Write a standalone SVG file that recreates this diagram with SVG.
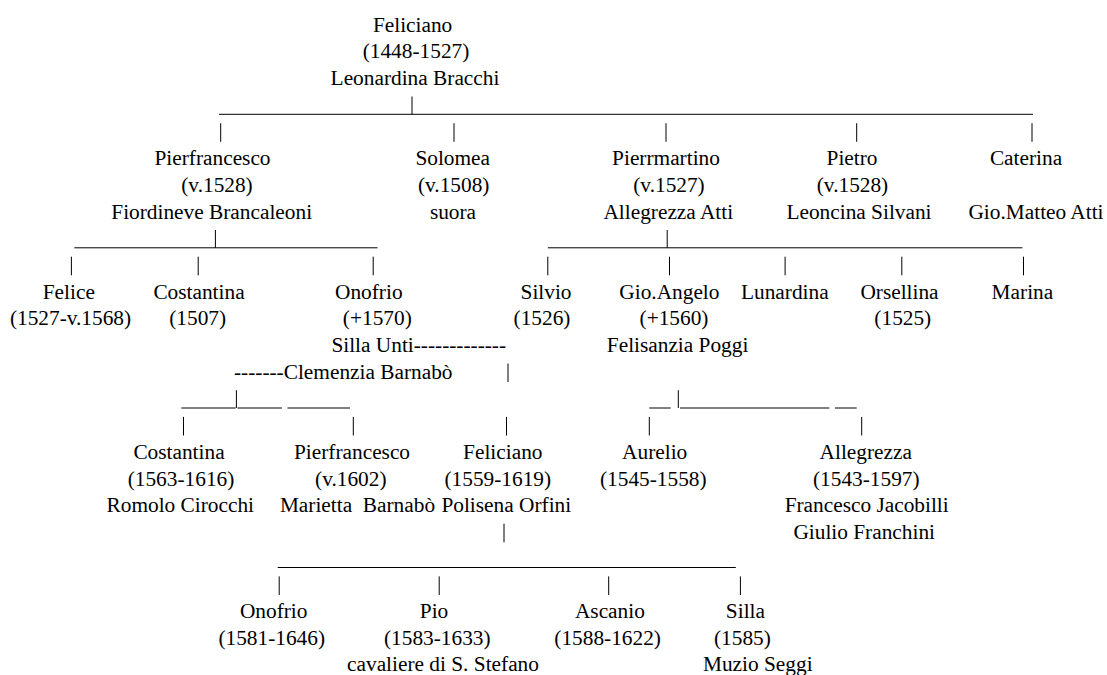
<svg xmlns="http://www.w3.org/2000/svg" width="1107" height="675" viewBox="0 0 1107 675">
<style>
.t text{font-size:21.33px;fill:#000;text-anchor:middle;white-space:pre}
.t text.s{text-anchor:start}
.c line{stroke:#000;stroke-width:1}
</style>
<rect width="1107" height="675" fill="#fff"/>
<g id="connectors" class="c">
<line x1="219" y1="114.3" x2="1033" y2="114.3"/>
<line x1="412" y1="96.5" x2="412" y2="114.3"/>
<line x1="220.7" y1="123.2" x2="220.7" y2="141.8"/>
<line x1="454" y1="123.2" x2="454" y2="141.8"/>
<line x1="666" y1="123.2" x2="666" y2="141.8"/>
<line x1="856.7" y1="123.2" x2="856.7" y2="141.8"/>
<line x1="1032" y1="123.2" x2="1032" y2="141.8"/>
<line x1="74.3" y1="247.8" x2="377.5" y2="247.8"/>
<line x1="215.4" y1="230" x2="215.4" y2="247.8"/>
<line x1="547.8" y1="247.8" x2="1022.4" y2="247.8"/>
<line x1="667.2" y1="230" x2="667.2" y2="247.8"/>
<line x1="71.4" y1="256.7" x2="71.4" y2="275.3"/>
<line x1="198.2" y1="256.7" x2="198.2" y2="275.3"/>
<line x1="373.2" y1="256.7" x2="373.2" y2="275.3"/>
<line x1="547.8" y1="256.7" x2="547.8" y2="275.3"/>
<line x1="669.5" y1="256.7" x2="669.5" y2="275.3"/>
<line x1="785.1" y1="256.7" x2="785.1" y2="275.3"/>
<line x1="901.8" y1="256.7" x2="901.8" y2="275.3"/>
<line x1="1023.5" y1="256.7" x2="1023.5" y2="275.3"/>
<line x1="508" y1="363.5" x2="508" y2="382.1"/>
<line x1="181.4" y1="408" x2="235.7" y2="408"/>
<line x1="237.5" y1="408" x2="282" y2="408"/>
<line x1="287.5" y1="408" x2="350" y2="408"/>
<line x1="236.4" y1="390.2" x2="236.4" y2="408"/>
<line x1="649.3" y1="408" x2="670.7" y2="408"/>
<line x1="680" y1="408" x2="829.3" y2="408"/>
<line x1="835" y1="408" x2="856.7" y2="408"/>
<line x1="678.3" y1="390.2" x2="678.3" y2="408"/>
<line x1="183.5" y1="416.9" x2="183.5" y2="435.5"/>
<line x1="353.3" y1="416.9" x2="353.3" y2="435.5"/>
<line x1="506.5" y1="416.9" x2="506.5" y2="435.5"/>
<line x1="649.3" y1="416.9" x2="649.3" y2="435.5"/>
<line x1="861.7" y1="416.9" x2="861.7" y2="435.5"/>
<line x1="504" y1="523.7" x2="504" y2="542.3"/>
<line x1="277.7" y1="567.5" x2="735.8" y2="567.5"/>
<line x1="279.2" y1="576.4" x2="279.2" y2="595"/>
<line x1="439.2" y1="576.4" x2="439.2" y2="595"/>
<line x1="608.7" y1="576.4" x2="608.7" y2="595"/>
<line x1="740.4" y1="576.4" x2="740.4" y2="595"/>
</g>
<g class="t" font-family="Liberation Serif, Times New Roman, DejaVu Serif, serif">
<g id="feliciano-root"><text x="412.6" y="31.7">Feliciano</text><text x="416" y="58.4">(1448-1527)</text><text x="415" y="85.1">Leonardina Bracchi</text></g>
<g id="pierfrancesco"><text x="212.5" y="165.2">Pierfrancesco</text><text x="217" y="191.9">(v.1528)</text><text x="211.7" y="218.6">Fiordineve Brancaleoni</text></g>
<g id="solomea"><text x="452.7" y="165.2">Solomea</text><text x="453.7" y="191.9">(v.1508)</text><text x="453" y="218.6">suora</text></g>
<g id="pierrmartino"><text x="666" y="165.2">Pierrmartino</text><text x="669" y="191.9">(v.1527)</text><text x="668.3" y="218.6">Allegrezza Atti</text></g>
<g id="pietro"><text x="852" y="165.2">Pietro</text><text x="852.5" y="191.9">(v.1528)</text><text x="859" y="218.6">Leoncina Silvani</text></g>
<g id="caterina"><text x="1026" y="165.2">Caterina</text><text x="1036" y="218.6">Gio.Matteo Atti</text></g>
<g id="felice"><text x="68.8" y="298.7">Felice</text><text x="70.5" y="325.4">(1527-v.1568)</text></g>
<g id="costantina"><text x="199" y="298.7">Costantina</text><text x="197.7" y="325.4">(1507)</text></g>
<g id="onofrio"><text x="368.8" y="298.7">Onofrio</text><text x="377.3" y="325.4">(+1570)</text><text class="s" x="331.4" y="352.1">Silla Unti-------------</text><text class="s" x="234" y="378.8">-------Clemenzia Barnabò</text></g>
<g id="silvio"><text x="546" y="298.7">Silvio</text><text x="542" y="325.4">(1526)</text></g>
<g id="gio-angelo"><text x="669.4" y="298.7">Gio.Angelo</text><text x="674" y="325.4">(+1560)</text><text x="677.6" y="352.1">Felisanzia Poggi</text></g>
<g id="lunardina"><text x="784.8" y="298.7">Lunardina</text></g>
<g id="orsellina"><text x="899.5" y="298.7">Orsellina</text><text x="902.8" y="325.4">(1525)</text></g>
<g id="marina"><text x="1022.4" y="298.7">Marina</text></g>
<g id="costantina-2"><text x="179" y="458.9">Costantina</text><text x="181" y="485.6">(1563-1616)</text><text x="180.3" y="512.3">Romolo Cirocchi</text></g>
<g id="pierfrancesco-2"><text x="352" y="458.9">Pierfrancesco</text><text x="350.8" y="485.6">(v.1602)</text><text x="357.5" y="512.3">Marietta  Barnabò</text></g>
<g id="feliciano-2"><text x="502.8" y="458.9">Feliciano</text><text x="497.8" y="485.6">(1559-1619)</text><text x="506.3" y="512.3">Polisena Orfini</text></g>
<g id="aurelio"><text x="654.7" y="458.9">Aurelio</text><text x="653.3" y="485.6">(1545-1558)</text></g>
<g id="allegrezza"><text x="865.8" y="458.9">Allegrezza</text><text x="866.3" y="485.6">(1543-1597)</text><text x="866.7" y="512.3">Francesco Jacobilli</text><text x="864.2" y="539">Giulio Franchini</text></g>
<g id="onofrio-2"><text x="273.7" y="618.1">Onofrio</text><text x="271.7" y="644.8">(1581-1646)</text></g>
<g id="pio"><text x="434" y="618.1">Pio</text><text x="437.3" y="644.8">(1583-1633)</text><text x="443" y="670.5">cavaliere di S. Stefano</text></g>
<g id="ascanio"><text x="609.9" y="618.1">Ascanio</text><text x="607.6" y="644.8">(1588-1622)</text></g>
<g id="silla"><text x="745.4" y="618.1">Silla</text><text x="742.4" y="644.8">(1585)</text><text x="757.8" y="670.5">Muzio Seggi</text></g>
</g>
</svg>
